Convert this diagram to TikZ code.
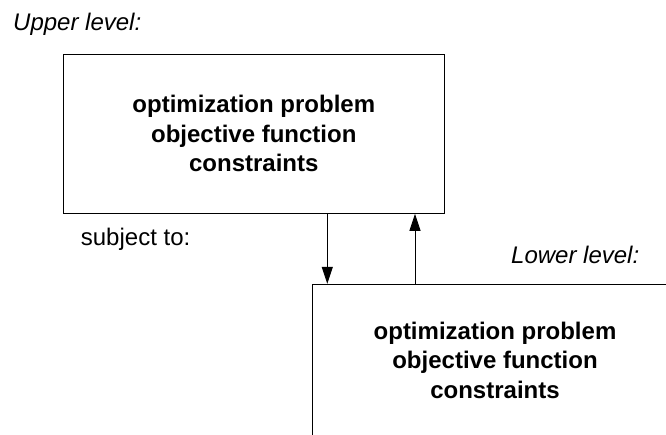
\documentclass[tikz,border=0pt]{standalone}
\usepackage{fontspec}
\setmainfont{Liberation Sans}
\usetikzlibrary{arrows.meta}
\tikzset{
  levelbox/.style={draw=black, line width=0.9pt, rectangle, align=center, inner sep=0pt,
    font=\bfseries\fontsize{24}{29.6}\selectfont},
  levellabel/.style={anchor=base west, inner sep=0pt, font=\itshape\fontsize{24}{29}\selectfont},
  plainlabel/.style={anchor=base west, inner sep=0pt, font=\fontsize{24}{29}\selectfont},
  link/.style={draw=black, line width=0.9pt, -{Triangle[length=17pt,width=11pt]}}
}
\begin{document}
\begin{tikzpicture}[x=1pt,y=-1pt]
\clip (0,0) rectangle (666,434);
\node[levelbox, minimum width=381pt, minimum height=159pt] (upper) at (253.8,133.8)
  {optimization problem\\objective function\\constraints};
\node[levelbox, minimum width=364.6pt, minimum height=152pt] (lower) at (495,360.3)
  {optimization problem\\objective function\\constraints};
\node[levellabel] (ul) at (13,30.7) {Upper level:};
\node[plainlabel] (st) at (80.7,245) {subject to:};
\node[levellabel] (ll) at (511,263.3) {Lower level:};
\coordinate (dnx) at (327.3,0);
\coordinate (upx) at (415,0);
\draw[link] (dnx |- upper.south) -- (dnx |- lower.north);
\draw[link] (upx |- lower.north) -- (upx |- upper.south);
\end{tikzpicture}
\end{document}
